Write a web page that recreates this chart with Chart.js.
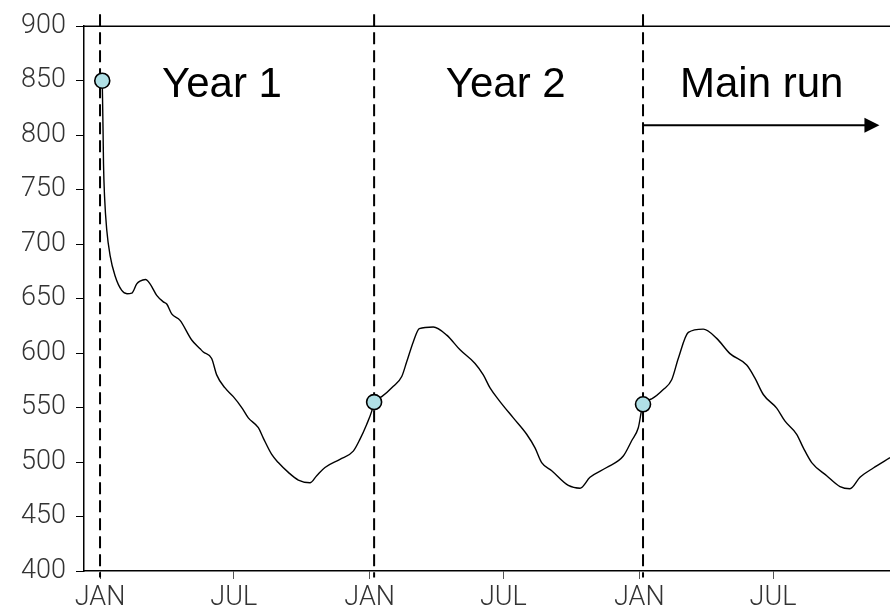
<!DOCTYPE html>
<html>
<head>
<meta charset="utf-8">
<script src="https://cdn.jsdelivr.net/npm/chart.js@4.4.1/dist/chart.umd.min.js"></script>
<style>
  html, body { margin: 0; padding: 0; background: #fff; }
  #wrap { width: 890px; height: 608px; }
</style>
</head>
<body>
<div id="wrap"><canvas id="c" width="890" height="608"></canvas></div>
<script>
// Day of the run (0 = first January) and the simulated quantity
const days = [3, 4.1, 4.7, 6.1, 9.1, 13.5, 20.3, 29.4, 36.5, 42.9, 49.7, 54.1, 61.6, 67.7, 76.7, 85.7, 90.3, 97,
  108.3, 124.1, 135.4, 139.8, 151.1, 157.9, 169.2, 180.4, 191.8, 200.7, 214.3, 221, 232.4, 241.3, 254.9, 268.4,
  284.2, 293.3, 304.5, 324.8, 342.8, 351.9, 360.9, 367.7, 371,
  381.3, 397, 408.4, 415.1, 424.1, 432.2, 451.1, 469.3, 487.3, 507.6, 518.8, 527.9, 541.4, 559.4, 577.5, 588.8,
  597.8, 611.4, 633.9, 649.7, 663.2, 685.8, 708.3, 719.6, 728.6, 735,
  746.7, 762.4, 773.8, 782.7, 796.3, 816.6, 834.7, 852.7, 875.3, 886.5, 897.8, 915.9, 927.2, 943, 952, 963.3,
  983.6, 1001.6, 1015.1, 1028.7, 1046.7, 1069.3];
const values = [850, 804, 774, 744, 713, 690, 671, 657.5, 654.5, 655, 663.5, 666, 667.5, 663.5, 653, 647, 645, 636,
  630, 612, 604, 601, 595, 580, 568, 560, 550, 540.5, 531.5, 522, 507, 499.5, 490.5, 483.5,
  481, 487.5, 495, 502.5, 510, 521, 534.5, 546.5, 555,
  560, 569.5, 578.5, 592, 610.5, 622.5, 624, 616.5, 603, 590.5, 580, 568, 555.5, 540.5, 525.5, 513,
  499.5, 492, 478.5, 476, 486, 495, 505.5, 519.5, 531.5, 553,
  558, 566.5, 575.5, 595, 619, 622, 613.5, 599.5, 589, 577, 562, 549.5, 537.5, 525.5, 513, 499.5,
  487.5, 477.5, 475.5, 486, 494.5, 504];

// Start of each period and the value there
const markerDays = [3, 371, 735];
const markerValues = [850, 555, 553];
const boundaryDays = [0, 371, 735];
const periodLabels = ['Year 1', 'Year 2', 'Main run'];

// Month ticks along the time axis
const tickDays = [0, 181, 365, 546, 730, 911];
const tickLabels = ['JAN', 'JUL', 'JAN', 'JUL', 'JAN', 'JUL'];
const yTicks = [400, 450, 500, 550, 600, 650, 700, 750, 800, 850, 900];

// Main-run arrow: from the last boundary to its tip, at this level
const arrowStartDay = 735;
const arrowEndDay = 1055;
const arrowLevel = 809;

// Where the period captions sit (left edge day, baseline value)
const labelDays = [84, 468, 785];
const labelBaseline = 835;

const tickFont = { family: 'Roboto, "Liberation Sans", Arial, sans-serif', size: 27, weight: '300' };

const datasets = [
  {
    label: 'markers',
    data: markerDays.map((d, i) => ({ x: d, y: markerValues[i] })),
    showLine: false,
    pointRadius: 7.5,
    pointBackgroundColor: '#b0e0e6',
    pointBorderColor: '#000',
    pointBorderWidth: 1.6,
    order: 0
  },
  {
    label: 'series',
    data: days.map((d, i) => ({ x: d, y: values[i] })),
    borderColor: '#000',
    borderWidth: 1.4,
    pointRadius: 0,
    cubicInterpolationMode: 'monotone',
    order: 1
  },
  {
    label: 'arrow',
    data: [{ x: arrowStartDay, y: arrowLevel }, { x: arrowEndDay - 8, y: arrowLevel }],
    borderColor: '#000',
    borderWidth: 2,
    pointRadius: 0,
    order: 1
  }
];
boundaryDays.forEach(d => {
  datasets.push({
    label: 'boundary',
    data: [{ x: d, y: 911 }, { x: d, y: 394 }],
    borderColor: '#000',
    borderWidth: 2,
    borderDash: [12, 6],
    pointRadius: 0,
    clip: false,
    order: 2
  });
});

const decorations = {
  id: 'decorations',
  afterDatasetsDraw(chart) {
    const { ctx, chartArea, scales: { x, y } } = chart;
    ctx.save();
    // upper frame line
    ctx.strokeStyle = '#000';
    ctx.lineWidth = 1.5;
    ctx.beginPath();
    ctx.moveTo(chartArea.left, chartArea.top);
    ctx.lineTo(chartArea.right, chartArea.top);
    ctx.stroke();
    // arrow head
    const tipX = x.getPixelForValue(arrowEndDay);
    const ay = y.getPixelForValue(arrowLevel);
    ctx.fillStyle = '#000';
    ctx.beginPath();
    ctx.moveTo(tipX, ay);
    ctx.lineTo(tipX - 15, ay - 7.5);
    ctx.lineTo(tipX - 15, ay + 7.5);
    ctx.closePath();
    ctx.fill();
    // period captions
    ctx.font = '42px "Liberation Sans", Arial, sans-serif';
    ctx.textAlign = 'left';
    ctx.textBaseline = 'alphabetic';
    periodLabels.forEach((t, i) => {
      ctx.fillText(t, x.getPixelForValue(labelDays[i]), y.getPixelForValue(labelBaseline));
    });
    ctx.restore();
  }
};

new Chart(document.getElementById('c'), {
  type: 'line',
  data: { datasets },
  options: {
    responsive: false,
    animation: false,
    layout: { autoPadding: false, padding: { top: 22, left: 0, right: 0, bottom: 0 } },
    plugins: { legend: { display: false }, tooltip: { enabled: false } },
    scales: {
      x: {
        type: 'linear',
        min: -21.7,
        max: 1069.3,
        afterBuildTicks: s => { s.ticks = tickDays.map(v => ({ value: v })); },
        afterFit: s => { s.height = 37; },
        ticks: {
          autoSkip: false,
          maxRotation: 0,
          padding: 3,
          color: '#333',
          font: tickFont,
          callback: (v, i) => tickLabels[i]
        },
        grid: { drawOnChartArea: false, drawTicks: true, tickLength: 8, color: '#555', lineWidth: 1 },
        border: { display: true, color: '#000', width: 1.5 }
      },
      y: {
        min: 400,
        max: 900,
        afterBuildTicks: s => { s.ticks = yTicks.map(v => ({ value: v })); },
        afterFit: s => { s.width = 84; },
        ticks: { padding: 10, color: '#333', font: tickFont },
        grid: { drawOnChartArea: false, drawTicks: true, tickLength: 8, color: '#000', lineWidth: 1 },
        border: { display: true, color: '#000', width: 1.5 }
      }
    }
  },
  plugins: [decorations]
});
</script>
</body>
</html>
